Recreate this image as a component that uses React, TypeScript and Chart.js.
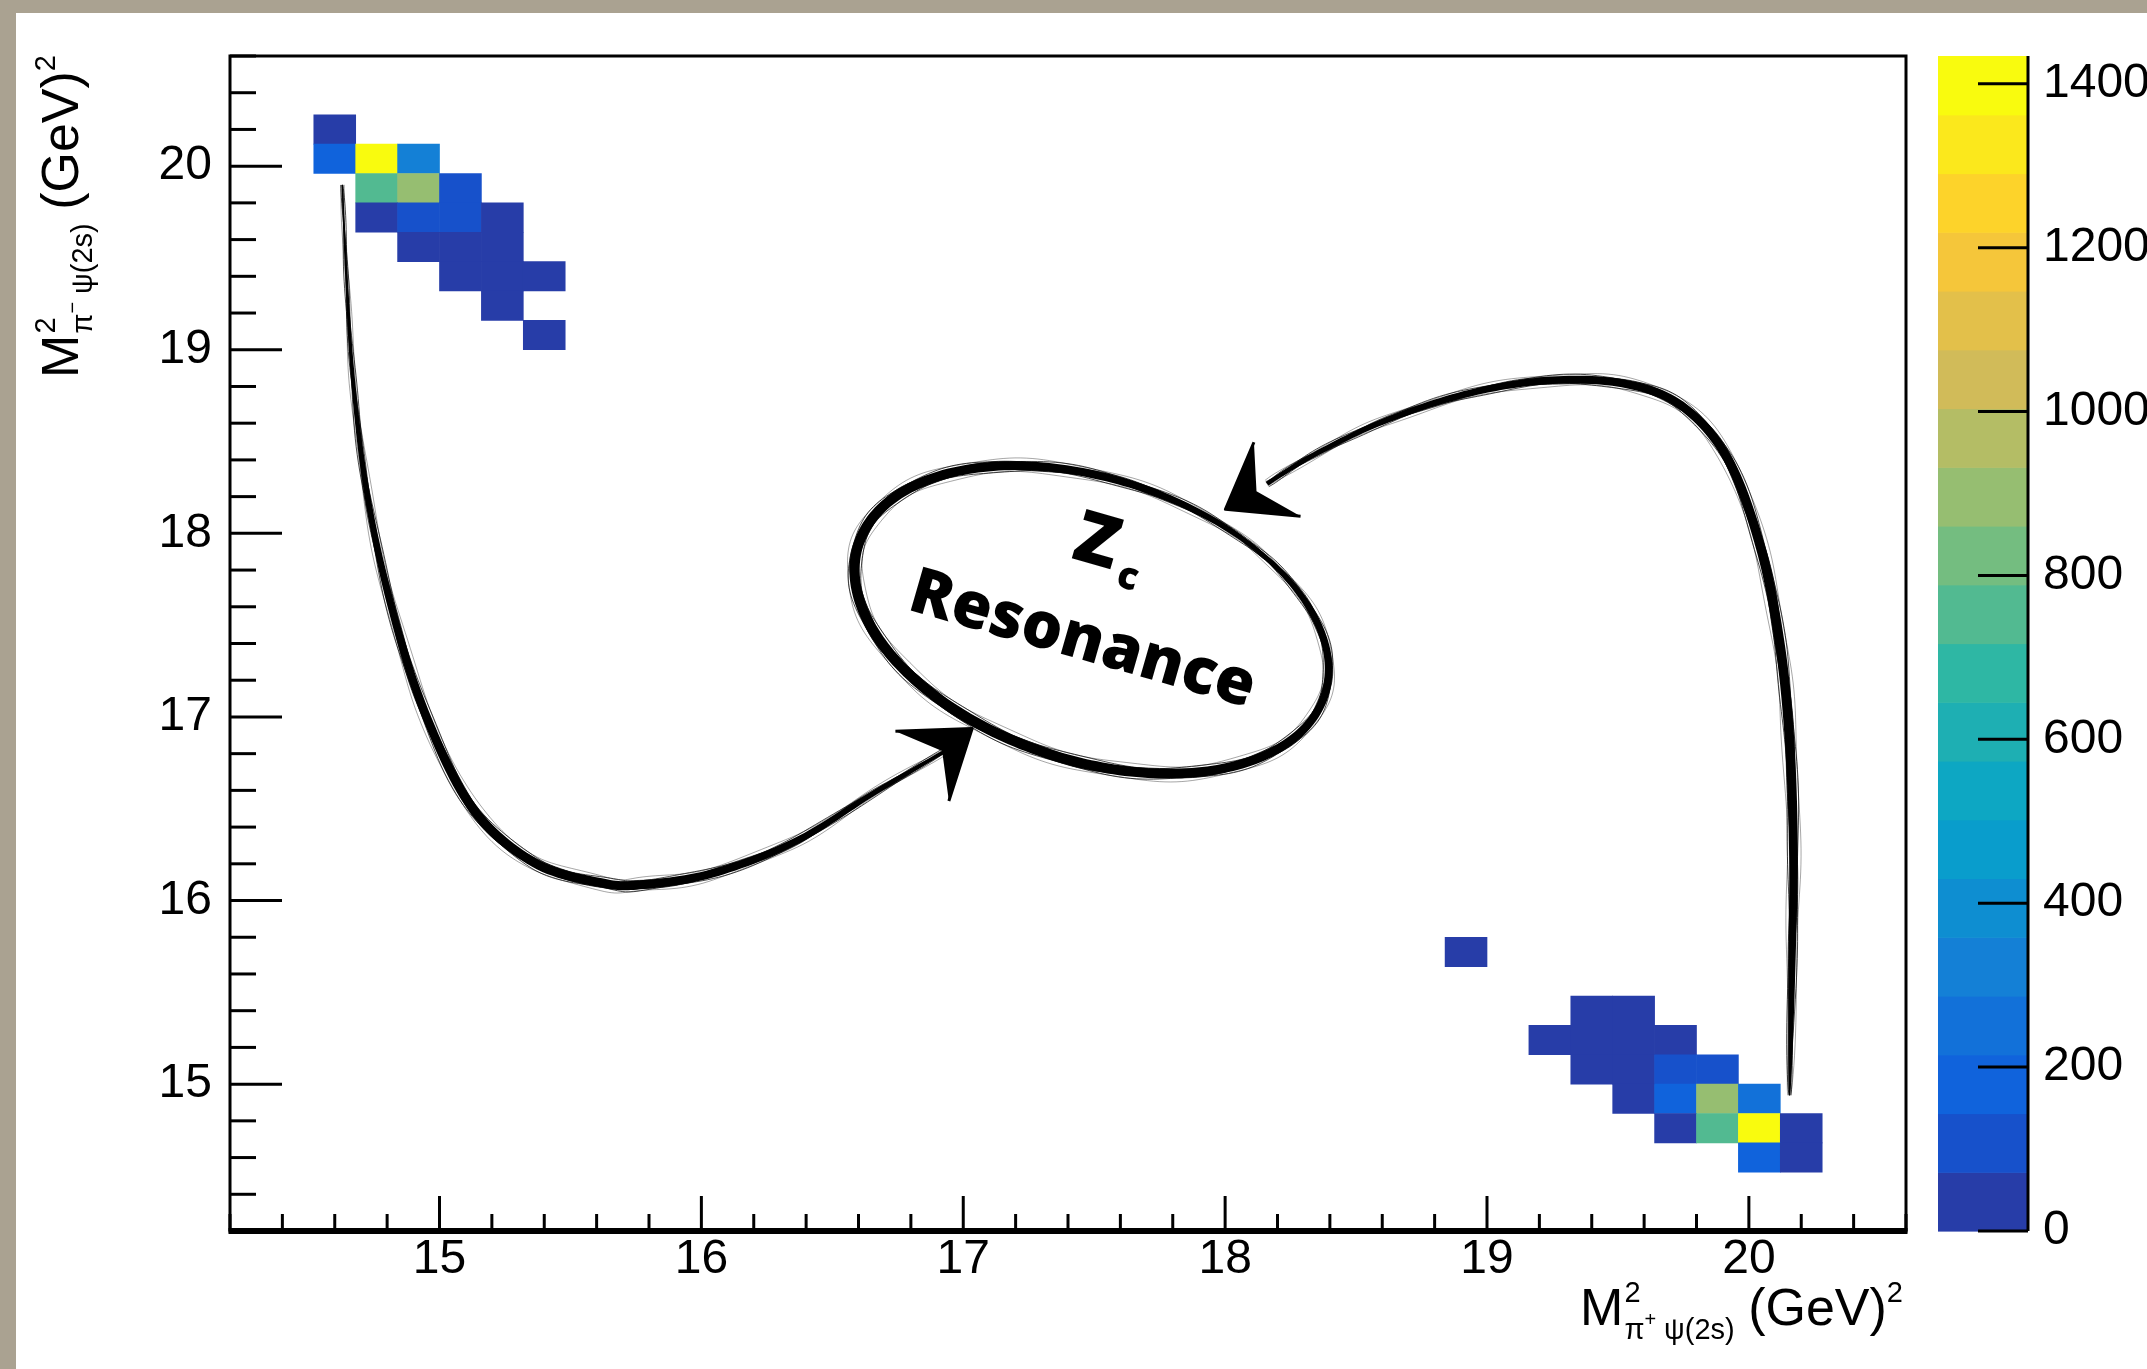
import React, { useEffect, useRef } from 'react';
import { Chart, registerables } from 'chart.js';

Chart.register(...registerables);

const CANVAS_W = 2147;
const CANVAS_H = 1369;

// Dalitz-plot binning, GeV²
const AXIS_MIN = 14.2;
const AXIS_MAX = 20.6;
const BIN_WIDTH = 0.16;
const MINOR_STEP = 0.2;
const N_LEVELS = 20;

const X_TICK_VALUES = [15, 16, 17, 18, 19, 20];
const Y_TICK_VALUES = [15, 16, 17, 18, 19, 20];
const Z_TICK_VALUES = [0, 200, 400, 600, 800, 1000, 1200, 1400];

// upper-left lobe: lower bin edges and entries
const UPPER_X_LOW = [14.52, 14.52, 14.68, 14.84, 14.68, 14.84, 15.0, 14.68, 14.84, 15.0, 15.16, 14.84, 15.0, 15.16, 15.0, 15.16, 15.32, 15.16, 15.32];
const UPPER_Y_LOW = [20.12, 19.96, 19.96, 19.96, 19.8, 19.8, 19.8, 19.64, 19.64, 19.64, 19.64, 19.48, 19.48, 19.48, 19.32, 19.32, 19.32, 19.16, 19.0];
const UPPER_COUNTS = [38, 176, 1434, 318, 752, 893, 121, 47, 104, 97, 41, 29, 55, 36, 18, 33, 12, 15, 8];

// lower-right lobe: lower bin edges and entries
const LOWER_X_LOW = [18.84, 19.32, 19.48, 19.16, 19.32, 19.48, 19.64, 19.32, 19.48, 19.64, 19.8, 19.48, 19.64, 19.8, 19.96, 19.64, 19.8, 19.96, 20.12, 19.96, 20.12];
const LOWER_Y_LOW = [15.64, 15.32, 15.32, 15.16, 15.16, 15.16, 15.16, 15.0, 15.0, 15.0, 15.0, 14.84, 14.84, 14.84, 14.84, 14.68, 14.68, 14.68, 14.68, 14.52, 14.52];
const LOWER_COUNTS = [9, 24, 31, 14, 45, 52, 27, 20, 43, 112, 98, 35, 187, 905, 262, 49, 740, 1401, 44, 171, 36];

const Z_MAX = Math.max(...UPPER_COUNTS, ...LOWER_COUNTS);

// layout (pixels)
const PAD_TOP = 56;
const Y_AXIS_W = 230;
const X_AXIS_H = 138;
const Z_AXIS_W = 241;
const PALETTE_GAP = 32;
const PALETTE_W = 90;
const FONT_FAMILY = "'Liberation Sans', Arial, sans-serif";
const TICK_FONT = { family: FONT_FAMILY, size: 48 };

// "bird" colour map
const BIRD_STOPS = [0.0, 0.125, 0.25, 0.375, 0.5, 0.625, 0.75, 0.875, 1.0];
const BIRD_R = [0.2082, 0.0592, 0.078, 0.0232, 0.1802, 0.5301, 0.8186, 0.9956, 0.9764];
const BIRD_G = [0.1664, 0.3599, 0.5041, 0.6419, 0.7178, 0.7492, 0.7328, 0.7862, 0.9832];
const BIRD_B = [0.5293, 0.8684, 0.8385, 0.7914, 0.6425, 0.4662, 0.3499, 0.1968, 0.0539];

function bird(f: number): string {
  let s = 0;
  while (s < BIRD_STOPS.length - 2 && f > BIRD_STOPS[s + 1]) s++;
  const t = (f - BIRD_STOPS[s]) / (BIRD_STOPS[s + 1] - BIRD_STOPS[s]);
  const c = (arr: number[]) => Math.round(255 * (arr[s] + (arr[s + 1] - arr[s]) * t));
  return `rgb(${c(BIRD_R)}, ${c(BIRD_G)}, ${c(BIRD_B)})`;
}

function levelColor(k: number): string {
  const idx = Math.floor(((k + 0.99) * 255) / N_LEVELS);
  return bird(idx / 254);
}

function countColor(v: number): string {
  const k = Math.min(N_LEVELS - 1, Math.floor(v / (Z_MAX / N_LEVELS)));
  return levelColor(k);
}

// annotation: ring with label and two hand-drawn arrows (data coordinates)
const ZC_CENTER: [number, number] = [17.49, 17.53];
const ZC_RING = { rx: 245, ry: 141, tiltDeg: 18 };
const ZC_TEXT_TILT_DEG = 16;

const LEFT_ARROW: [number, number][] = [
  [14.629, 19.898], [14.644, 19.413], [14.671, 18.817], [14.723, 18.22], [14.812, 17.623],
  [14.943, 17.027], [15.125, 16.505], [15.361, 16.207], [15.622, 16.095], [15.779, 16.087],
  [16.04, 16.147], [16.354, 16.318], [16.668, 16.594], [16.95, 16.83],
];
const LEFT_HEAD = { tip: [17.034, 16.937], barbs: [[16.741, 16.922], [16.945, 16.542]] };

const RIGHT_ARROW: [number, number][] = [
  [20.155, 14.939], [20.165, 15.684], [20.17, 16.281], [20.155, 16.878], [20.118, 17.4],
  [20.045, 17.922], [19.919, 18.407], [19.741, 18.697], [19.517, 18.817], [19.229, 18.832],
  [18.915, 18.757], [18.602, 18.608], [18.341, 18.429], [18.16, 18.27],
];
const RIGHT_HEAD = { tip: [18.001, 18.131], barbs: [[18.11, 18.496], [18.288, 18.093]] };

type P = [number, number];

function catmull(pts: P[], n = 14): P[] {
  const out: P[] = [];
  for (let i = 0; i < pts.length - 1; i++) {
    const p0 = pts[Math.max(0, i - 1)];
    const p1 = pts[i];
    const p2 = pts[i + 1];
    const p3 = pts[Math.min(pts.length - 1, i + 2)];
    for (let s = 0; s < n; s++) {
      const t = s / n;
      const t2 = t * t;
      const t3 = t2 * t;
      const f = (a: number, b: number, c: number, d: number) =>
        0.5 * (2 * b + (-a + c) * t + (2 * a - 5 * b + 4 * c - d) * t2 + (-a + 3 * b - 3 * c + d) * t3);
      out.push([f(p0[0], p1[0], p2[0], p3[0]), f(p0[1], p1[1], p2[1], p3[1])]);
    }
  }
  out.push(pts[pts.length - 1]);
  return out;
}

function brush(ctx: CanvasRenderingContext2D, pts: P[], width: (t: number) => number) {
  const n = pts.length;
  const cum = [0];
  for (let i = 1; i < n; i++) cum.push(cum[i - 1] + Math.hypot(pts[i][0] - pts[i - 1][0], pts[i][1] - pts[i - 1][1]));
  const total = cum[n - 1] || 1;
  const normals: P[] = [];
  for (let i = 0; i < n; i++) {
    const a = pts[Math.max(0, i - 1)];
    const b = pts[Math.min(n - 1, i + 1)];
    let tx = b[0] - a[0];
    let ty = b[1] - a[1];
    const len = Math.hypot(tx, ty) || 1;
    tx /= len;
    ty /= len;
    normals.push([-ty, tx]);
  }
  const L: P[] = [];
  const R: P[] = [];
  for (let i = 0; i < n; i++) {
    const w = width(cum[i] / total) / 2;
    L.push([pts[i][0] + normals[i][0] * w, pts[i][1] + normals[i][1] * w]);
    R.push([pts[i][0] - normals[i][0] * w, pts[i][1] - normals[i][1] * w]);
  }
  ctx.beginPath();
  ctx.moveTo(L[0][0], L[0][1]);
  for (let i = 1; i < n; i++) ctx.lineTo(L[i][0], L[i][1]);
  for (let i = n - 1; i >= 0; i--) ctx.lineTo(R[i][0], R[i][1]);
  ctx.closePath();
  ctx.fill();
  // fibrous strands along both edges
  ctx.save();
  ctx.lineWidth = 1;
  for (const side of [-1, 1]) {
    for (const k of [0.8, 1.15, 1.5]) {
      ctx.globalAlpha = k > 1.3 ? 0.35 : 0.7;
      ctx.beginPath();
      for (let i = 0; i < n; i++) {
        const w = width(cum[i] / total) / 2;
        const off = side * (w * k + 1.1 * Math.sin(i * 0.29 + k * 7 + side * 2));
        const x = pts[i][0] + normals[i][0] * off;
        const y = pts[i][1] + normals[i][1] * off;
        if (i === 0) ctx.moveTo(x, y);
        else ctx.lineTo(x, y);
      }
      ctx.stroke();
    }
  }
  ctx.restore();
}

function drawHead(ctx: CanvasRenderingContext2D, tip: P, b1: P, b2: P) {
  const mid: P = [(b1[0] + b2[0]) / 2, (b1[1] + b2[1]) / 2];
  const notch: P = [tip[0] + 0.6 * (mid[0] - tip[0]), tip[1] + 0.6 * (mid[1] - tip[1])];
  ctx.beginPath();
  ctx.moveTo(tip[0], tip[1]);
  ctx.lineTo(b1[0], b1[1]);
  ctx.lineTo(notch[0], notch[1]);
  ctx.lineTo(b2[0], b2[1]);
  ctx.closePath();
  ctx.fill();
  ctx.lineWidth = 3;
  ctx.lineJoin = 'round';
  ctx.beginPath();
  ctx.moveTo(b1[0], b1[1]);
  ctx.lineTo(tip[0], tip[1]);
  ctx.lineTo(b2[0], b2[1]);
  ctx.stroke();
}

function drawMassTitle(ctx: CanvasRenderingContext2D, charge: string) {
  const BIG = `52px ${FONT_FAMILY}`;
  const SMALL = `29px ${FONT_FAMILY}`;
  const TINY = `20px ${FONT_FAMILY}`;
  ctx.textAlign = 'left';
  ctx.textBaseline = 'alphabetic';
  ctx.font = BIG;
  const wM = ctx.measureText('M').width;
  const wUnit = ctx.measureText(' (GeV)').width;
  ctx.font = SMALL;
  const wPi = ctx.measureText('π').width;
  const wRest = ctx.measureText(' ψ(2s)').width;
  const wTwo = ctx.measureText('2').width;
  ctx.font = TINY;
  const wCh = ctx.measureText(charge).width;
  const wSub = wPi + wCh + wRest;
  const block = Math.max(wSub, wTwo);
  const total = wM + block + wUnit + wTwo;
  let x = -total;
  ctx.font = BIG;
  ctx.fillText('M', x, 0);
  x += wM;
  ctx.font = SMALL;
  ctx.fillText('2', x + 1, -23);
  ctx.fillText('π', x + 1, 14);
  ctx.font = TINY;
  ctx.fillText(charge, x + 1 + wPi, 1);
  ctx.font = SMALL;
  ctx.fillText(' ψ(2s)', x + 1 + wPi + wCh, 14);
  x += block;
  ctx.font = BIG;
  ctx.fillText(' (GeV)', x, 0);
  x += wUnit;
  ctx.font = SMALL;
  ctx.fillText('2', x, -23);
}

const dalitzDecor = {
  id: 'dalitzDecor',
  beforeDraw(chart: any) {
    const ctx: CanvasRenderingContext2D = chart.ctx;
    ctx.save();
    ctx.fillStyle = '#aaa291';
    ctx.fillRect(0, 0, chart.width, chart.height);
    ctx.fillStyle = '#ffffff';
    ctx.fillRect(16, 13, chart.width - 16, chart.height - 13);
    ctx.restore();
  },
  afterDatasetsDraw(chart: any) {
    const ctx: CanvasRenderingContext2D = chart.ctx;
    const xs = chart.scales.x;
    const ys = chart.scales.y;
    const zs = chart.scales.z;
    const { left, right, top, bottom } = chart.chartArea;
    ctx.save();
    ctx.strokeStyle = '#000';
    ctx.fillStyle = '#000';
    ctx.lineCap = 'butt';

    // inward tick marks
    ctx.lineWidth = 3;
    const nMinor = Math.round((AXIS_MAX - AXIS_MIN) / MINOR_STEP);
    for (let k = 0; k <= nMinor; k++) {
      const v = AXIS_MIN + k * MINOR_STEP;
      const major = Math.abs(v - Math.round(v)) < 1e-6;
      const px = xs.getPixelForValue(v);
      ctx.beginPath();
      ctx.moveTo(px, bottom);
      ctx.lineTo(px, bottom - (major ? 35 : 17));
      ctx.stroke();
      const py = ys.getPixelForValue(v);
      ctx.beginPath();
      ctx.moveTo(left, py);
      ctx.lineTo(left + (major ? 52 : 26), py);
      ctx.stroke();
    }

    // frame
    ctx.lineWidth = 3;
    ctx.strokeRect(left, top, right - left, bottom - top);
    ctx.lineWidth = 6;
    ctx.beginPath();
    ctx.moveTo(left - 1.5, bottom);
    ctx.lineTo(right + 1.5, bottom);
    ctx.stroke();

    // colour scale
    const x0 = right + PALETTE_GAP;
    const x1 = x0 + PALETTE_W;
    const step = Z_MAX / N_LEVELS;
    for (let k = 0; k < N_LEVELS; k++) {
      const yTop = zs.getPixelForValue((k + 1) * step);
      const yBot = zs.getPixelForValue(k * step);
      ctx.fillStyle = levelColor(k);
      ctx.fillRect(x0, yTop, x1 - x0, yBot - yTop + 0.6);
    }
    ctx.strokeStyle = '#000';
    ctx.lineWidth = 3;
    ctx.beginPath();
    ctx.moveTo(x1, zs.top);
    ctx.lineTo(x1, zs.bottom);
    ctx.stroke();
    for (const t of Z_TICK_VALUES) {
      const py = zs.getPixelForValue(t);
      ctx.beginPath();
      ctx.moveTo(x1, py);
      ctx.lineTo(x1 - 50, py);
      ctx.stroke();
    }

    // axis titles
    ctx.fillStyle = '#000';
    ctx.save();
    ctx.translate(right - 3, bottom + 94);
    drawMassTitle(ctx, '+');
    ctx.restore();
    ctx.save();
    ctx.translate(left - 152, top - 1);
    ctx.rotate(-Math.PI / 2);
    drawMassTitle(ctx, '−');
    ctx.restore();

    // annotation arrows
    const toPx = (p: number[]): P => [xs.getPixelForValue(p[0]), ys.getPixelForValue(p[1])];
    ctx.fillStyle = '#000';
    ctx.strokeStyle = '#000';
    const leftPts = catmull(LEFT_ARROW.map(toPx));
    brush(ctx, leftPts, (t) => 1.4 + 8 * Math.sin(Math.PI * 0.92 * Math.pow(t, 1.2)));
    drawHead(ctx, toPx(LEFT_HEAD.tip), toPx(LEFT_HEAD.barbs[0]), toPx(LEFT_HEAD.barbs[1]));
    const rightPts = catmull(RIGHT_ARROW.map(toPx));
    brush(ctx, rightPts, (t) => 1.2 + 8.5 * Math.sin(Math.PI * 0.88 * Math.pow(t, 0.6)));
    drawHead(ctx, toPx(RIGHT_HEAD.tip), toPx(RIGHT_HEAD.barbs[0]), toPx(RIGHT_HEAD.barbs[1]));

    // ring
    const [cx, cy] = toPx(ZC_CENTER);
    const tilt = (ZC_RING.tiltDeg * Math.PI) / 180;
    const ring: P[] = [];
    const phi0 = -Math.PI / 3;
    const nSeg = 260;
    for (let i = 0; i <= nSeg; i++) {
      const phi = phi0 + ((2 * Math.PI + 0.12) * i) / nSeg;
      const ex = ZC_RING.rx * Math.cos(phi);
      const ey = ZC_RING.ry * Math.sin(phi);
      ring.push([cx + ex * Math.cos(tilt) - ey * Math.sin(tilt), cy + ex * Math.sin(tilt) + ey * Math.cos(tilt)]);
    }
    brush(ctx, ring, (t) => 3 + 7.5 * Math.pow(Math.sin(Math.PI * t), 0.5));

    // ring label
    ctx.save();
    ctx.translate(cx, cy);
    ctx.rotate((ZC_TEXT_TILT_DEG * Math.PI) / 180);
    ctx.fillStyle = '#000';
    ctx.textAlign = 'center';
    ctx.textBaseline = 'middle';
    ctx.font = "800 64px 'Open Sans', sans-serif";
    ctx.fillText('Resonance', -3, 23);
    ctx.font = "800 72px 'Open Sans', sans-serif";
    ctx.fillText('Z', -16, -74);
    ctx.font = "800 38px 'Open Sans', sans-serif";
    ctx.fillText('c', 23, -50);
    ctx.restore();

    ctx.restore();
  },
};

export default function App() {
  const canvasRef = useRef<HTMLCanvasElement | null>(null);

  useEffect(() => {
    const canvas = canvasRef.current;
    if (!canvas) return;

    const xLow = [...UPPER_X_LOW, ...LOWER_X_LOW];
    const yLow = [...UPPER_Y_LOW, ...LOWER_Y_LOW];
    const counts = [...UPPER_COUNTS, ...LOWER_COUNTS];
    const cells = xLow.map((x, i) => ({ x: x + BIN_WIDTH / 2, y: [yLow[i], yLow[i] + BIN_WIDTH] }));

    const chart = new Chart(canvas, {
      type: 'bar',
      data: {
        datasets: [
          {
            label: 'entries',
            data: cells as any,
            backgroundColor: counts.map(countColor),
            borderWidth: 0,
            categoryPercentage: 1,
            barPercentage: 1,
          },
        ],
      },
      options: {
        responsive: false,
        animation: false,
        devicePixelRatio: 1,
        layout: { padding: { top: PAD_TOP, left: 0, right: 0, bottom: 0 } },
        plugins: {
          legend: { display: false },
          tooltip: { enabled: false },
          title: { display: false },
        },
        scales: {
          x: {
            type: 'linear',
            min: AXIS_MIN,
            max: AXIS_MAX,
            offset: false,
            grid: { display: false, drawTicks: false },
            border: { display: false },
            ticks: {
              font: TICK_FONT,
              color: '#000',
              padding: 0,
              autoSkip: false,
              maxRotation: 0,
              callback: (v: any) => String(v),
            },
            afterBuildTicks: (s: any) => {
              s.ticks = X_TICK_VALUES.map((value) => ({ value }));
            },
            afterFit: (s: any) => {
              s.height = X_AXIS_H;
              s.paddingLeft = 0;
              s.paddingRight = 0;
            },
          },
          y: {
            type: 'linear',
            min: AXIS_MIN,
            max: AXIS_MAX,
            beginAtZero: false,
            grid: { display: false, drawTicks: false },
            border: { display: false },
            ticks: {
              font: TICK_FONT,
              color: '#000',
              padding: 18,
              autoSkip: false,
              callback: (v: any) => String(v),
            },
            afterBuildTicks: (s: any) => {
              s.ticks = Y_TICK_VALUES.map((value) => ({ value }));
            },
            afterFit: (s: any) => {
              s.width = Y_AXIS_W;
              s.paddingTop = 0;
              s.paddingBottom = 0;
            },
          },
          z: {
            type: 'linear',
            position: 'right',
            min: 0,
            max: Z_MAX,
            grid: { display: false, drawTicks: false },
            border: { display: false },
            ticks: {
              font: TICK_FONT,
              color: '#000',
              padding: 137,
              autoSkip: false,
              callback: (v: any) => String(v),
            },
            afterBuildTicks: (s: any) => {
              s.ticks = Z_TICK_VALUES.map((value) => ({ value }));
            },
            afterFit: (s: any) => {
              s.width = Z_AXIS_W;
              s.paddingTop = 0;
              s.paddingBottom = 0;
            },
          },
        },
      } as any,
      plugins: [dalitzDecor],
    });

    return () => chart.destroy();
  }, []);

  return (
    <div style={{ position: 'fixed', left: 0, top: 0, width: CANVAS_W, height: CANVAS_H, background: '#fff' }}>
      <canvas ref={canvasRef} width={CANVAS_W} height={CANVAS_H} style={{ display: 'block' }} />
    </div>
  );
}
